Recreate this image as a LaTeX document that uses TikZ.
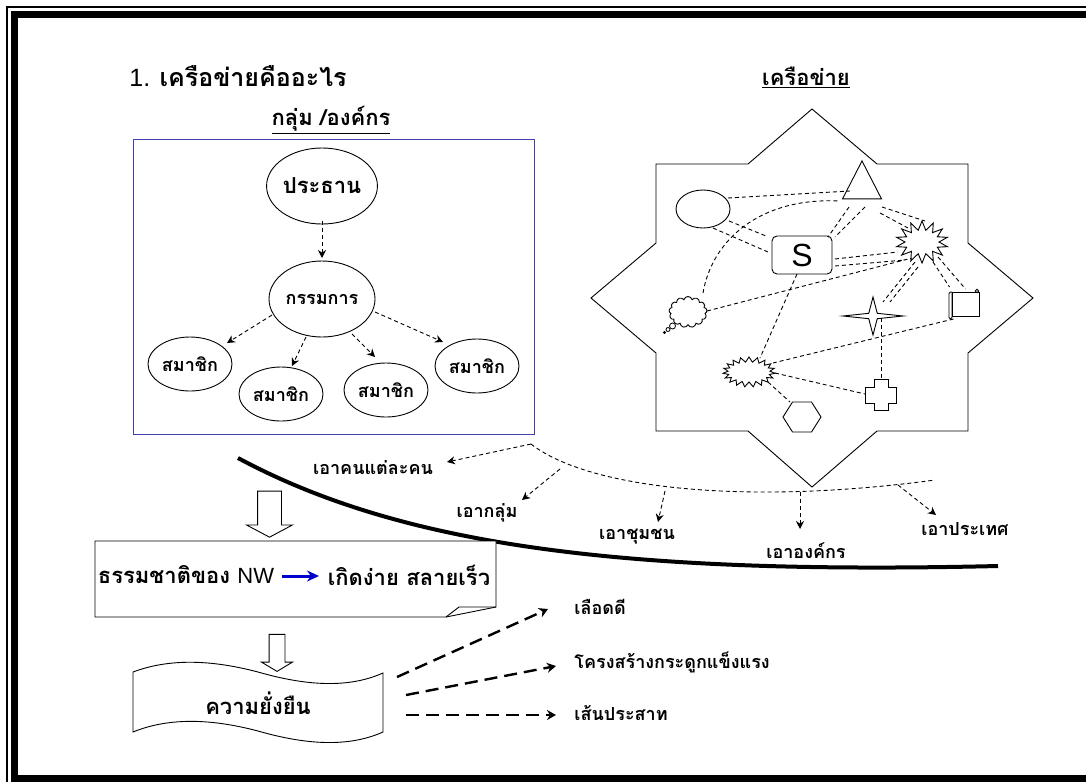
\documentclass[tikz,border=0pt]{standalone}
\usepackage{fontspec}
\setmainfont{Liberation Sans}
\newfontfamily\thaifont[Script=Thai]{Loma}
\usetikzlibrary{calc}
\usetikzlibrary{arrows.meta}
\usetikzlibrary{shapes.geometric}
\usetikzlibrary{shapes.symbols,shapes.arrows}
\definecolor{boxblue}{RGB}{64,64,176}
\tikzset{
	person/.style={
		ellipse,
		draw=black,
		inner sep=0pt,
		font=\thaifont\bfseries\fontsize{18}{21}\selectfont},
	chief/.style={person, minimum width=106pt, minimum height=76pt},
	member/.style={person, minimum width=84pt, minimum height=54pt},
	bubble/.style={circle, draw, inner sep=0pt, line width=.8pt},
	link/.style={draw, dash pattern=on 4pt off 3pt, line width=.9pt},
	reach/.style={link, -{Stealth[length=8pt,width=8pt]}},
	strong/.style={draw, dash pattern=on 13pt off 7pt, line width=2.4pt, -{Stealth[length=9pt,width=10pt]}},
	label/.style={inner sep=0pt, font=\thaifont\bfseries\fontsize{18}{21}\selectfont},
	heading/.style={inner sep=0pt, font=\thaifont\bfseries\fontsize{22}{26}\selectfont},
	hollow/.style={single arrow, draw, shape border rotate=270, inner ysep=0pt},
}

\begin{document}
\begin{tikzpicture}[x=1pt,y=-1pt,line width=.9pt]
	\useasboundingbox (0,0) rectangle (1086,782);

	% frame, open on the right
	\draw[line width=1.6pt] (1086,7) -- (7,7) -- (7,782);
	\draw[line width=7pt] (1086,14.5) -- (14.5,14.5) -- (14.5,782);
	\draw[line width=7.5pt] (11,778.25) -- (1086,778.25);

	\node[heading, anchor=west, font=\fontsize{25}{30}\selectfont] (title) at (129,76) {1. {\thaifont\bfseries เครือข่ายคืออะไร}};
	\node[heading] (grouptitle) at (331,120) {\underline{กลุ่ม /องค์กร}};
	\node[heading] (nettitle) at (806,77) {\underline{เครือข่าย}};

	% left panel
	\draw[boxblue] (133,139) rectangle (534,434);
	\node[chief, font=\thaifont\bfseries\fontsize{22}{26}\selectfont] (chair) at (322,186) {ประธาน};
	\node[chief] (board) at (322,299) {กรรมการ};
	\node[member] (memberA) at (190,364) {สมาชิก};
	\node[member] (memberB) at (281,394) {สมาชิก};
	\node[member] (memberC) at (386,390) {สมาชิก};
	\node[member] (memberD) at (477,366) {สมาชิก};
	\draw[reach] ($(chair)+(0,35)$) -- ($(board)+(0,-41)$);
	\draw[reach] ($(board)+(-50,16)$) -- ($(memberA)+(37,-21)$);
	\draw[reach] ($(board)+(-16,38)$) -- ($(memberB)+(11,-28)$);
	\draw[reach] ($(board)+(30,35)$) -- ($(memberC)+(-11,-33)$);
	\draw[reach] ($(board)+(53,13)$) -- ($(memberD)+(-34,-24)$);

	% right panel
	\draw (812,109) -- (877,164) -- (968,164) -- (968,243) -- (1033,298) -- (968,353)
		-- (968,431) -- (877,431) -- (812,487) -- (748,431) -- (656,431) -- (656,353)
		-- (591,298) -- (656,243) -- (656,164) -- (748,164) -- cycle;

	\node[ellipse, draw, minimum width=54pt, minimum height=38pt, inner sep=0pt] (oval) at (703,209) {};
	\node[isosceles triangle, isosceles triangle stretches, shape border rotate=90, draw,
		minimum width=39pt, minimum height=38pt, inner sep=0pt] (tri) at (862,187) {};
	\node[draw, rounded corners=5pt, minimum width=60pt, minimum height=38pt, inner sep=0pt,
		font=\fontsize{32}{36}\selectfont] (hub) at (802,255) {S};
	\node[starburst, draw, random starburst=0, starburst points=14, starburst point height=9pt,
		minimum width=52pt, minimum height=42pt, inner sep=0pt] (burst) at (922,242) {};
	\node[starburst, draw, random starburst=0, starburst points=19, starburst point height=5pt,
		minimum width=52pt, minimum height=30pt, inner sep=0pt] (spiky) at (749,372) {};
	\node[cloud, draw, cloud puffs=13, minimum width=38pt, minimum height=31pt, inner sep=0pt] (thought) at (688,312) {};
	\node[bubble, minimum size=6pt] (bubbleA) at (672.5,326) {};
	\node[bubble, minimum size=4pt] (bubbleB) at (668,329.5) {};
	\node[bubble, minimum size=2pt] (bubbleC) at (664.5,332.5) {};
	\node[star, star points=4, star point ratio=5, draw, minimum size=38pt, inner sep=0pt,
		xscale=1.58] (spark) at (873,316) {};
	\node[draw, minimum width=27pt, minimum height=24pt, inner sep=0pt] (scroll) at (965.5,304) {};
	\draw[rounded corners=1.5pt] ($(scroll)+(-13.5,-12)$) -- ($(scroll)+(-16.5,-12)$) -- ($(scroll)+(-16.5,15)$)
		-- ($(scroll)+(-13.5,15)$) -- ($(scroll)+(-13.5,-12)$);
	\draw ($(scroll)+(11.5,-13)$) circle (1.8pt);
	\node[minimum size=31pt, inner sep=0pt] (plus) at (881,395) {};
	\draw ($(plus)+(-7,-15.5)$) -- ($(plus)+(7,-15.5)$) -- ($(plus)+(7,-8)$) -- ($(plus)+(15.5,-8)$)
		-- ($(plus)+(15.5,8)$) -- ($(plus)+(7,8)$) -- ($(plus)+(7,15.5)$) -- ($(plus)+(-7,15.5)$)
		-- ($(plus)+(-7,8)$) -- ($(plus)+(-15.5,8)$) -- ($(plus)+(-15.5,-8)$) -- ($(plus)+(-7,-8)$) -- cycle;
	\node[regular polygon, regular polygon sides=6, draw, minimum size=38pt, inner sep=0pt,
		yscale=.91] (hexa) at (802,417) {};

	\draw[link] ($(oval)+(25,-11)$) -- ($(tri)+(-12,4)$);
	\draw[link] ($(thought)+(15,-19)$) .. controls +(9,-53) and +(-80,-4) .. ($(tri)+(-22,14)$);
	\draw[link] ($(oval)+(26,12)$) -- ($(hub)+(-36,-19)$);
	\draw[link] ($(oval)+(10,19)$) -- ($(hub)+(-34,-3)$);
	\draw[link] ($(tri)+(-13,20)$) -- ($(hub)+(26,-18)$);
	\draw[link] ($(tri)+(3,20)$) -- ($(hub)+(33,-18)$);
	\draw[link] ($(tri)+(20,20)$) -- ($(burst)+(3,-21)$);
	\draw[link] ($(tri)+(18,26)$) -- ($(burst)+(-14,-14)$);
	\draw[link] ($(hub)+(33,4)$) -- ($(burst)+(-24,10)$);
	\draw[link] ($(hub)+(33,11)$) -- ($(burst)+(-17,18)$);
	\draw[link] ($(thought)+(19,-1)$) -- ($(burst)+(-10,16)$);
	\draw[link] ($(hub)+(-5,19)$) -- ($(spiky)+(11,-14)$);
	\draw[link] ($(burst)+(-7,20)$) -- ($(spark)+(10,-14)$);
	\draw[link] ($(burst)+(-4,25)$) -- ($(spark)+(17,-14)$);
	\draw[link] ($(burst)+(11,20)$) -- ($(scroll)+(-16,-17)$);
	\draw[link] ($(burst)+(16,15)$) -- ($(scroll)+(0,-15)$);
	\draw[link] ($(scroll)+(-12,15)$) -- ($(spiky)+(24,-9)$);
	\draw[link] ($(spark)+(8,2)$) -- ($(plus)+(0,-16)$);
	\draw[link] ($(spiky)+(26,1)$) -- ($(plus)+(-16,-1)$);
	\draw[link] ($(spiky)+(19,10)$) -- ($(hexa)+(-12,-15)$);

	% the long curves
	\draw[line width=4pt] (238,458) .. controls (400,545) and (620,575) .. (998,566);
	\coordinate (curveL) at (531,444);
	\coordinate (curveR) at (935,480);
	\coordinate (forkA) at (560,469);
	\coordinate (forkB) at (665,491);
	\coordinate (forkC) at (800,492);
	\coordinate (forkD) at (898,485);
	\draw[link] (curveL) .. controls (590,490) and (750,505) .. (curveR);

	\node[label] (wantPerson) at (373,468) {เอาคนแต่ละคน};
	\node[label] (wantGroup) at (487,513) {เอากลุ่ม};
	\node[label] (wantCommunity) at (637,537) {เอาชุมชน};
	\node[label] (wantOrg) at (806,551) {เอาองค์กร};
	\node[label] (wantCountry) at (965,529) {เอาประเทศ};
	\draw[reach] (curveL) -- ($(wantPerson)+(74,-6)$);
	\draw[reach] (forkA) -- ($(wantGroup)+(35,-13)$);
	\draw[reach] (forkB) -- ($(wantCommunity)+(21,-15)$);
	\draw[reach] (forkC) -- ($(wantOrg)+(-6,-22)$);
	\draw[reach] (forkD) -- ($(wantCountry)+(-29,-14)$);

	% lower left
	\node[hollow, minimum height=46pt, minimum width=45pt, inner xsep=11.5pt, single arrow head extend=11pt,
		single arrow tip angle=124] (flowA) at (269.5,511) {};
	\draw[fill=white] (95,541) -- (496,541) -- (496,607) -- (459,607) -- (446,617) -- (95,617) -- cycle;
	\draw (446,617) -- (496,607);
	\node[heading] (nature) at (186,575) {ธรรมชาติของ {\rmfamily\mdseries NW}};
	\node[heading] (result) at (409,575) {เกิดง่าย สลายเร็ว};
	\draw[blue!80!black, line width=3pt, -{Stealth[length=12pt,width=11pt]}] ($(nature)+(96,1)$) -- ($(result)+(-90,1)$);

	\node[hollow, minimum height=37pt, minimum width=30pt, inner xsep=7.5pt, single arrow head extend=7.5pt,
		single arrow tip angle=118] (flowB) at (277,650.5) {};
	\draw (133,672) .. controls (165,660) and (205,658) .. (258,672) .. controls (300,684) and (345,690) .. (383,673)
		-- (383,732) .. controls (345,749) and (300,743) .. (258,731) .. controls (205,717) and (165,719) .. (133,732) -- cycle;
	\node[heading] (lasting) at (258,703) {ความยั่งยืน};

	\node[label, anchor=west] (blood) at (574,607) {เลือดดี};
	\node[label, anchor=west] (bones) at (574,662) {โครงสร้างกระดูกแข็งแรง};
	\node[label, anchor=west] (nerves) at (574,713) {เส้นประสาท};
	\draw[strong] ($(lasting)+(139,-26)$) -- ($(blood.west)+(-26,2)$);
	\draw[strong] ($(lasting)+(148,-8)$) -- ($(bones.west)+(-18,4)$);
	\draw[strong] ($(lasting)+(148,12)$) -- ($(nerves.west)+(-18,2)$);
\end{tikzpicture}
\end{document}
